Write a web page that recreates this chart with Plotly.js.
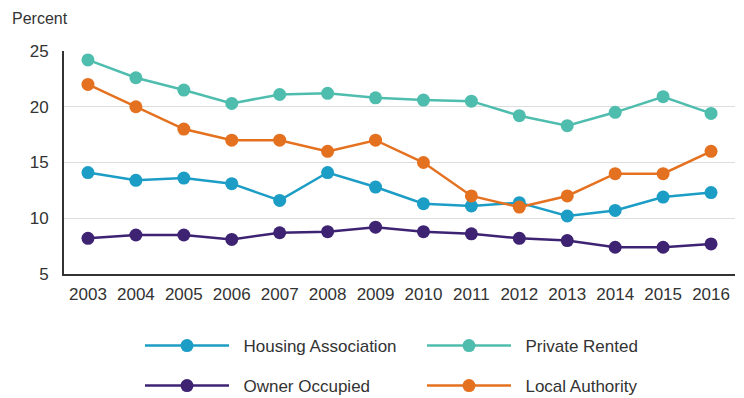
<!DOCTYPE html>
<html>
<head>
<meta charset="utf-8">
<script src="https://cdn.plot.ly/plotly-3.0.1.min.js"></script>
<style>html,body{margin:0;padding:0;background:#fff;}#chart{width:744px;height:398px;}</style>
</head>
<body>
<div id="chart"></div>
<script>
const years = [2003,2004,2005,2006,2007,2008,2009,2010,2011,2012,2013,2014,2015,2016];
const housingAssociation = [14.1,13.4,13.6,13.1,11.6,14.1,12.8,11.3,11.1,11.4,10.2,10.7,11.9,12.3];
const privateRented = [24.2,22.6,21.5,20.3,21.1,21.2,20.8,20.6,20.5,19.2,18.3,19.5,20.9,19.4];
const ownerOccupied = [8.2,8.5,8.5,8.1,8.7,8.8,9.2,8.8,8.6,8.2,8.0,7.4,7.4,7.7];
const localAuthority = [22,20,18,17,17,16,17,15,12,11,12,14,14,16];
const yTicks = [5,10,15,20,25];

const colors = {
  ha: '#1c9dc5',
  pr: '#4fbdae',
  oo: '#3e2373',
  la: '#e4711f'
};

const pad = '\u00a0\u00a0';

function tr(name, y, color, legend) {
  return {
    type: 'scatter', mode: 'lines+markers', name: pad + name, x: years, y: y,
    line: {color: color, width: 2.5},
    marker: {color: color, size: 13},
    legend: legend
  };
}

const data = [
  tr('Owner Occupied', ownerOccupied, colors.oo, 'legend2'),
  tr('Housing Association', housingAssociation, colors.ha, 'legend'),
  tr('Local Authority', localAuthority, colors.la, 'legend2'),
  tr('Private Rented', privateRented, colors.pr, 'legend')
];

const font = {family: 'Liberation Sans, Arial, sans-serif', size: 17, color: '#333333'};

const legendCommon = {
  orientation: 'h', xref: 'container', yref: 'container',
  xanchor: 'left', yanchor: 'middle',
  itemwidth: 84, entrywidth: 183, entrywidthmode: 'pixels',
  font: font, bgcolor: 'rgba(0,0,0,0)', borderwidth: 0,
  traceorder: 'normal'
};

const layout = {
  width: 744, height: 398,
  paper_bgcolor: '#ffffff', plot_bgcolor: '#ffffff',
  margin: {l: 64, r: 9, t: 51, b: 124},
  font: font,
  title: {text: 'Percent', x: 12/744, xanchor: 'left', xref: 'container', y: 1 - 18/398, yanchor: 'middle', yref: 'container', font: {family: font.family, size: 16, color: '#333333'}},
  xaxis: {
    range: [2002.5, 2016.5], tickvals: years, ticktext: years.map(String),
    showgrid: false, zeroline: false,
    showline: true, linecolor: '#333333', linewidth: 2,
    ticks: '', ticklabelstandoff: 4,
    tickfont: font, fixedrange: true
  },
  yaxis: {
    range: [5, 25], tickvals: yTicks, ticktext: yTicks.map(String),
    showgrid: true, gridcolor: '#dddddd', gridwidth: 1, zeroline: false,
    showline: true, linecolor: '#333333', linewidth: 2,
    ticks: '', ticklabelstandoff: 10,
    tickfont: font, fixedrange: true
  },
  legend: Object.assign({}, legendCommon, {x: 140/744, y: 1 - 346/398}),
  legend2: Object.assign({}, legendCommon, {x: 140/744, y: 1 - 386/398}),
  showlegend: true
};

Plotly.newPlot('chart', data, layout, {displayModeBar: false, staticPlot: true});
</script>
</body>
</html>
